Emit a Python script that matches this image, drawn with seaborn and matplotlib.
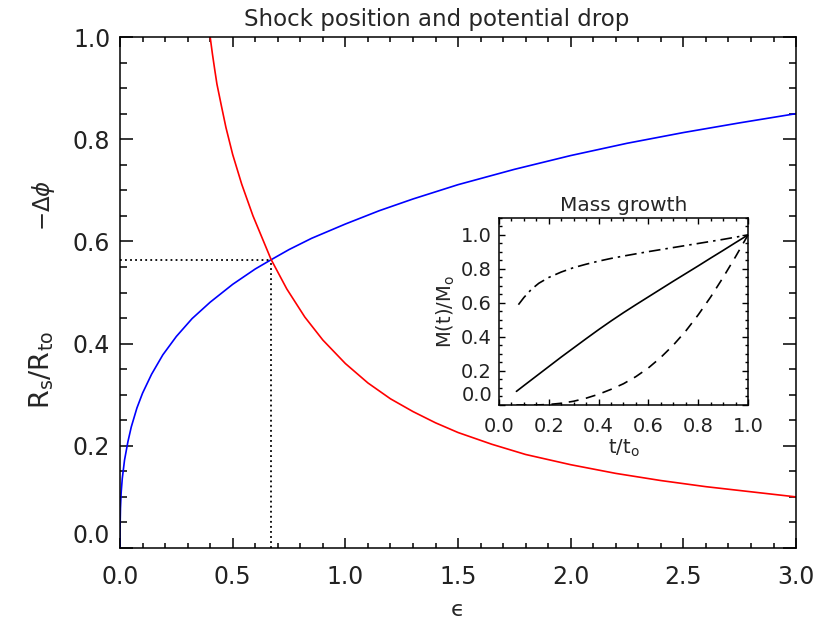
import numpy as np
import matplotlib
matplotlib.use("Agg")
import matplotlib.pyplot as plt
from matplotlib.ticker import MultipleLocator
import seaborn as sns

# main panel: shock radius (blue) and potential drop (red) vs epsilon
blue_eps = [0.0, 0.0005, 0.002, 0.005, 0.01, 0.02, 0.035, 0.05, 0.075, 0.10, 0.14, 0.19,
            0.25, 0.32, 0.40, 0.50, 0.60, 0.67, 0.75, 0.85, 1.00, 1.15, 1.30, 1.50, 1.75,
            2.00, 2.25, 2.50, 2.75, 3.00]
blue_rs = [0.0, 0.045, 0.078, 0.108, 0.136, 0.172, 0.208, 0.237, 0.274, 0.303, 0.34, 0.378,
           0.414, 0.449, 0.481, 0.516, 0.546, 0.564, 0.584, 0.606, 0.634, 0.66, 0.683, 0.711,
           0.741, 0.768, 0.792, 0.813, 0.832, 0.85]

red_eps = [0.40, 0.41, 0.42, 0.43, 0.45, 0.47, 0.50, 0.54, 0.59, 0.67, 0.74, 0.82, 0.90,
           1.00, 1.10, 1.20, 1.30, 1.40, 1.50, 1.65, 1.80, 2.00, 2.20, 2.40, 2.60, 2.80, 3.00]
red_phi = [1.00, 0.967, 0.937, 0.908, 0.865, 0.823, 0.770, 0.712, 0.650, 0.565, 0.507,
           0.452, 0.407, 0.361, 0.323, 0.292, 0.267, 0.245, 0.226, 0.203, 0.183, 0.163,
           0.146, 0.132, 0.120, 0.110, 0.100]

cross_eps = 0.67
cross_val = 0.564

# inset: mass growth
solid_t = [0.07, 0.10, 0.15, 0.20, 0.25, 0.30, 0.35, 0.40, 0.45, 0.50, 0.55, 0.60, 0.65,
           0.70, 0.75, 0.80, 0.85, 0.90, 0.95, 1.00]
solid_m = [0.08, 0.114, 0.17, 0.226, 0.282, 0.336, 0.39, 0.443, 0.494, 0.543, 0.59, 0.636,
           0.682, 0.728, 0.773, 0.818, 0.864, 0.909, 0.955, 1.00]

dashdot_t = [0.078, 0.10, 0.13, 0.16, 0.20, 0.25, 0.30, 0.35, 0.40, 0.45, 0.50, 0.55, 0.60,
             0.65, 0.70, 0.75, 0.80, 0.85, 0.90, 0.95, 1.00]
dashdot_m = [0.59, 0.632, 0.68, 0.716, 0.75, 0.782, 0.808, 0.828, 0.846, 0.862, 0.876,
             0.889, 0.902, 0.914, 0.926, 0.938, 0.95, 0.962, 0.974, 0.987, 1.00]

dashed_t = [0.07, 0.15, 0.20, 0.25, 0.30, 0.35, 0.40, 0.45, 0.50, 0.55, 0.60, 0.65, 0.70,
            0.75, 0.80, 0.85, 0.90, 0.95, 1.00]
dashed_m = [0.0, 0.0, 0.003, 0.01, 0.022, 0.04, 0.063, 0.092, 0.125, 0.167, 0.218, 0.28,
            0.352, 0.435, 0.53, 0.635, 0.75, 0.872, 1.00]

sns.set_style("ticks", {"xtick.direction": "in", "ytick.direction": "in"})
plt.rcParams["font.family"] = ["DejaVu Sans"]
plt.rcParams["mathtext.fontset"] = "dejavusans"
plt.rcParams["axes.linewidth"] = 1.1
plt.rcParams["axes.edgecolor"] = "black"

fig = plt.figure(figsize=(8.3, 6.24), dpi=100)
ax = fig.add_axes([0.1446, 0.1218, 0.8145, 0.8189])

sns.lineplot(x=blue_eps, y=blue_rs, ax=ax, color="blue", lw=1.2, sort=False, estimator=None)
sns.lineplot(x=red_eps, y=red_phi, ax=ax, color="red", lw=1.2, sort=False, estimator=None)
ax.plot([0, cross_eps], [cross_val, cross_val], color="black", lw=1.3, linestyle=(0, (1, 1.8)))
ax.plot([cross_eps, cross_eps], [0, cross_val], color="black", lw=1.3, linestyle=(0, (1, 1.8)))

ax.xaxis.set_minor_locator(MultipleLocator(0.1))
ax.yaxis.set_minor_locator(MultipleLocator(0.05))
ax.tick_params(which="both", direction="in", top=True, right=True, width=1.1, colors="black")
ax.tick_params(axis="x", which="major", length=7.5, pad=12, labelsize=17)
ax.tick_params(axis="x", which="minor", length=3.8)
ax.tick_params(axis="y", which="major", length=9.5, pad=7, labelsize=17)
ax.tick_params(axis="y", which="minor", length=5)
xt = np.arange(0, 3.01, 0.5)
yt = np.arange(0, 1.01, 0.2)
ax.set_xticks(xt)
ax.set_xticklabels([f"{v:.1f}" for v in xt], color="#222222")
ax.set_yticks(yt)
ax.set_yticklabels([f"{v:.1f}" for v in yt], color="#222222")
ax.get_yticklabels()[0].set_va("bottom")
ax.set_xlim(0, 3)
ax.set_ylim(0, 1)

ax.set_title("Shock position and potential drop", fontsize=16.5, pad=8, x=0.469)
ax.set_xlabel("\u03f5", fontsize=16, labelpad=8)
ax.set_ylabel("")
fig.text(0.052, 0.671 * 0.8189 + 0.1218, r"$-\Delta\phi$", rotation=90, fontsize=16.5,
         ha="center", va="center")
fig.text(0.050, 0.348 * 0.8189 + 0.1218, r"$\mathregular{R_s/R_{to}}$", rotation=90,
         fontsize=19.5, ha="center", va="center")

# inset
ins = fig.add_axes([0.6012, 0.351, 0.300, 0.2997])
sns.lineplot(x=solid_t, y=solid_m, ax=ins, color="black", lw=1.2, sort=False, estimator=None)
sns.lineplot(x=dashdot_t, y=dashdot_m, ax=ins, color="black", lw=1.2, sort=False,
             estimator=None, linestyle=(0, (7, 3, 1.5, 3)))
sns.lineplot(x=dashed_t, y=dashed_m, ax=ins, color="black", lw=1.2, sort=False,
             estimator=None, linestyle=(0, (6, 4.5)))
ins.xaxis.set_minor_locator(MultipleLocator(0.05))
ins.yaxis.set_minor_locator(MultipleLocator(0.05))
ins.tick_params(which="both", direction="in", top=True, right=True, width=1.0, colors="black")
ins.tick_params(which="major", length=4, labelsize=14)
ins.tick_params(axis="x", which="major", pad=9)
ins.tick_params(axis="y", which="major", pad=5)
ins.tick_params(which="minor", length=2)
it = np.arange(0, 1.01, 0.2)
ins.set_xticks(it)
ins.set_xticklabels([f"{v:.1f}" for v in it], color="#222222")
ins.set_yticks(it)
ins.set_yticklabels([f"{v:.1f}" for v in it], color="#222222")
ins.get_yticklabels()[0].set_va("bottom")
ins.set_xlim(0, 1)
ins.set_ylim(0, 1.1)
ins.set_title("Mass growth", fontsize=14.5, pad=5)
ins.set_xlabel(r"$\mathregular{t/t_o}$", fontsize=14, labelpad=1)
ins.set_ylabel(r"$\mathregular{M(t)/M_o}$", fontsize=14, labelpad=3)

fig.savefig("out.png", dpi=100, facecolor="white")
